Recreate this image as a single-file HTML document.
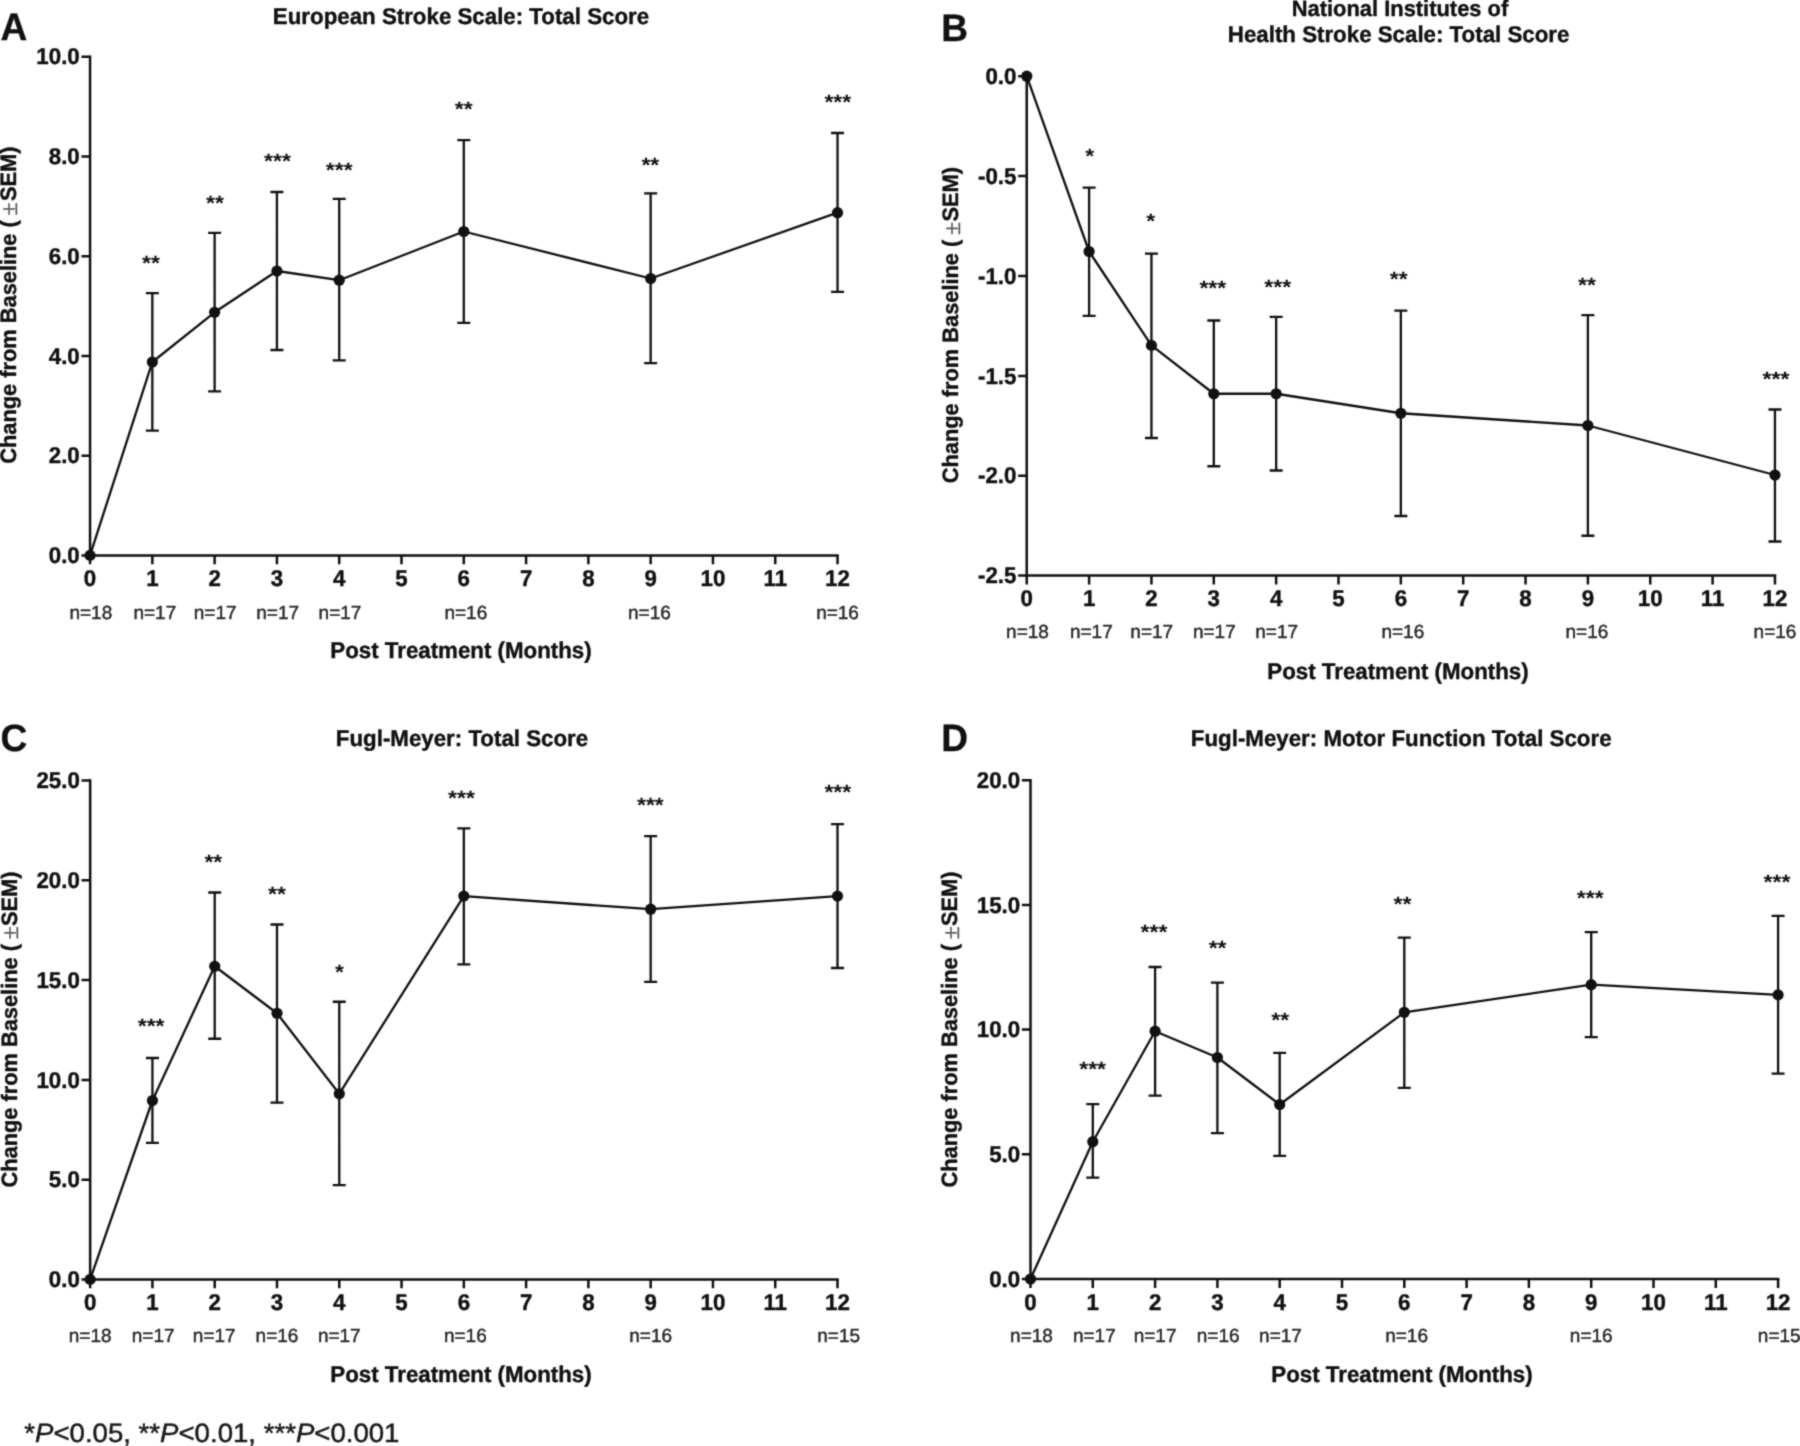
<!DOCTYPE html>
<html lang="en">
<head>
<meta charset="utf-8">
<title>Change from Baseline: Stroke Scales</title>
<style>
html,body{margin:0;padding:0;background:#fff;}
body{width:1800px;height:1446px;overflow:hidden;}
svg{display:block;}
text{text-rendering:geometricPrecision;font-family:"Liberation Sans",Arial,Helvetica,sans-serif;fill:#111111;}
.b{font-weight:bold;}
.t{font-size:22.3px;font-weight:bold;stroke:#111;stroke-width:0.4px;}
.k{font-size:22.3px;font-weight:bold;stroke:#111;stroke-width:0.4px;}
.n{font-size:19px;fill:#2a2a2a;stroke:#2a2a2a;stroke-width:0.45px;}
.s{font-size:23px;font-weight:bold;}
.p{font-size:36px;font-weight:bold;stroke:#111;stroke-width:0.3px;}
.pm{font-family:"Liberation Serif","DejaVu Serif",serif;font-weight:normal;fill:#555;stroke:#555;stroke-width:0.4px;font-size:24px;}
.ax{stroke:#111111;stroke-width:2.5;fill:none;stroke-linecap:butt;}
.d{stroke:#111111;stroke-width:2.3;fill:none;stroke-linejoin:round;}
.m{fill:#111111;}
.foot{font-size:27.6px;fill:#1a1a1a;stroke:#1a1a1a;stroke-width:0.5px;}
</style>
</head>
<body>
<svg width="1800" height="1446" viewBox="0 0 1800 1446">
<defs><filter id="soft" x="0" y="0" width="1800" height="1446" filterUnits="userSpaceOnUse" color-interpolation-filters="sRGB"><feConvolveMatrix order="3" kernelMatrix="0.0289 0.1122 0.0289 0.1122 0.4356 0.1122 0.0289 0.1122 0.0289" divisor="1" edgeMode="duplicate" preserveAlpha="false"/></filter></defs>
<rect x="0" y="0" width="1800" height="1446" fill="#ffffff"/>
<g filter="url(#soft)">

<g id="panel-A">
<text class="p" transform="translate(0.4 40.4) scale(1.03 1.06)">A</text>
<text class="t" text-anchor="middle" transform="translate(461 24.3) scale(1 1.02)">European Stroke Scale: Total Score</text>
<path class="ax" d="M90.05 55.55V555.4H838.78"/>
<path class="ax" d="M90.05 555.4H81.45M90.05 455.7H81.45M90.05 355.95H81.45M90.05 256.2H81.45M90.05 156.5H81.45M90.05 56.8H81.45"/>
<path class="ax" d="M90.05 555.4V564.3M152.34 555.4V564.3M214.63 555.4V564.3M276.92 555.4V564.3M339.21 555.4V564.3M401.5 555.4V564.3M463.79 555.4V564.3M526.08 555.4V564.3M588.37 555.4V564.3M650.66 555.4V564.3M712.95 555.4V564.3M775.24 555.4V564.3M837.53 555.4V564.3"/>
<text class="k" text-anchor="end" transform="translate(79.75 563) scale(1 1.02)">0.0</text>
<text class="k" text-anchor="end" transform="translate(79.75 463.3) scale(1 1.02)">2.0</text>
<text class="k" text-anchor="end" transform="translate(79.75 363.55) scale(1 1.02)">4.0</text>
<text class="k" text-anchor="end" transform="translate(79.75 263.8) scale(1 1.02)">6.0</text>
<text class="k" text-anchor="end" transform="translate(79.75 164.1) scale(1 1.02)">8.0</text>
<text class="k" text-anchor="end" transform="translate(79.75 64.4) scale(1 1.02)">10.0</text>
<text class="k" text-anchor="middle" transform="translate(90.05 586.4) scale(1 1.02)">0</text>
<text class="k" text-anchor="middle" transform="translate(152.34 586.4) scale(1 1.02)">1</text>
<text class="k" text-anchor="middle" transform="translate(214.63 586.4) scale(1 1.02)">2</text>
<text class="k" text-anchor="middle" transform="translate(276.92 586.4) scale(1 1.02)">3</text>
<text class="k" text-anchor="middle" transform="translate(339.21 586.4) scale(1 1.02)">4</text>
<text class="k" text-anchor="middle" transform="translate(401.5 586.4) scale(1 1.02)">5</text>
<text class="k" text-anchor="middle" transform="translate(463.79 586.4) scale(1 1.02)">6</text>
<text class="k" text-anchor="middle" transform="translate(526.08 586.4) scale(1 1.02)">7</text>
<text class="k" text-anchor="middle" transform="translate(588.37 586.4) scale(1 1.02)">8</text>
<text class="k" text-anchor="middle" transform="translate(650.66 586.4) scale(1 1.02)">9</text>
<text class="k" text-anchor="middle" transform="translate(712.95 586.4) scale(1 1.02)">10</text>
<text class="k" text-anchor="middle" transform="translate(775.24 586.4) scale(1 1.02)">11</text>
<text class="k" text-anchor="middle" transform="translate(837.53 586.4) scale(1 1.02)">12</text>
<text class="n" text-anchor="middle" transform="translate(90.8 618.9) scale(1 1)">n=18</text>
<text class="n" text-anchor="middle" transform="translate(154.84 618.9) scale(1 1)">n=17</text>
<text class="n" text-anchor="middle" transform="translate(215.13 618.9) scale(1 1)">n=17</text>
<text class="n" text-anchor="middle" transform="translate(277.67 618.9) scale(1 1)">n=17</text>
<text class="n" text-anchor="middle" transform="translate(339.96 618.9) scale(1 1)">n=17</text>
<text class="n" text-anchor="middle" transform="translate(465.79 618.9) scale(1 1)">n=16</text>
<text class="n" text-anchor="middle" transform="translate(649.41 618.9) scale(1 1)">n=16</text>
<text class="n" text-anchor="middle" transform="translate(837.53 618.9) scale(1 1)">n=16</text>
<text class="t" text-anchor="middle" transform="translate(461 658.4) scale(1 1.02)">Post Treatment (Months)</text>
<g transform="translate(15.9 0) rotate(-90)">
<text class="t" style="font-size:21.8px" transform="translate(-463.7 0) scale(1 1.02)">Change from Baseline (</text>
<text class="pm" text-anchor="middle" transform="translate(-208.9 1.5) scale(1 1)">±</text>
<text class="t" text-anchor="end" style="font-size:21.8px" transform="translate(-146.5 0) scale(1 1.02)">SEM)</text>
</g>
<path class="d" d="M90.05 555.4L152.34 362L214.63 312.3L276.92 271L339.21 280.2L463.79 231.5L650.66 278.5L837.53 212.7"/>
<path class="d" d="M152.34 293.2V430.7M145.84 293.2H158.84M145.84 430.7H158.84M214.63 232.9V391.4M208.13 232.9H221.13M208.13 391.4H221.13M276.92 192V350M270.42 192H283.42M270.42 350H283.42M339.21 198.9V360.4M332.71 198.9H345.71M332.71 360.4H345.71M463.79 140.2V322.8M457.29 140.2H470.29M457.29 322.8H470.29M650.66 193.3V363.2M644.16 193.3H657.16M644.16 363.2H657.16M837.53 133V291.8M831.03 133H844.03M831.03 291.8H844.03"/>
<circle class="m" cx="90.05" cy="555.4" r="5.6"/>
<circle class="m" cx="152.34" cy="362" r="5.6"/>
<circle class="m" cx="214.63" cy="312.3" r="5.6"/>
<circle class="m" cx="276.92" cy="271" r="5.6"/>
<circle class="m" cx="339.21" cy="280.2" r="5.6"/>
<circle class="m" cx="463.79" cy="231.5" r="5.6"/>
<circle class="m" cx="650.66" cy="278.5" r="5.6"/>
<circle class="m" cx="837.53" cy="212.7" r="5.6"/>
<text class="s" text-anchor="middle" transform="translate(150.94 269.8) scale(1 0.9)">**</text>
<text class="s" text-anchor="middle" transform="translate(214.93 210.3) scale(1 0.9)">**</text>
<text class="s" text-anchor="middle" transform="translate(277.42 167.7) scale(1 0.9)">***</text>
<text class="s" text-anchor="middle" transform="translate(339.21 176.9) scale(1 0.9)">***</text>
<text class="s" text-anchor="middle" transform="translate(463.79 116.1) scale(1 0.9)">**</text>
<text class="s" text-anchor="middle" transform="translate(650.36 171.9) scale(1 0.9)">**</text>
<text class="s" text-anchor="middle" transform="translate(837.83 109.1) scale(1 0.9)">***</text>
</g>
<g id="panel-B">
<text class="p" transform="translate(941.2 40.6) scale(1.03 1.06)">B</text>
<text class="t" text-anchor="middle" style="font-size:21.9px" transform="translate(1400 16.2) scale(1 1.02)">National Institutes of</text>
<text class="t" text-anchor="middle" transform="translate(1398.6 41.6) scale(1 1.02)">Health Stroke Scale: Total Score</text>
<path class="ax" d="M1026.75 74.95V575.6H1776.2"/>
<path class="ax" d="M1026.75 76.2H1018.15M1026.75 176.1H1018.15M1026.75 276H1018.15M1026.75 375.9H1018.15M1026.75 475.7H1018.15M1026.75 575.6H1018.15"/>
<path class="ax" d="M1026.75 575.6V584.5M1089.1 575.6V584.5M1151.45 575.6V584.5M1213.8 575.6V584.5M1276.15 575.6V584.5M1338.5 575.6V584.5M1400.85 575.6V584.5M1463.2 575.6V584.5M1525.55 575.6V584.5M1587.9 575.6V584.5M1650.25 575.6V584.5M1712.6 575.6V584.5M1774.95 575.6V584.5"/>
<text class="k" text-anchor="end" transform="translate(1016.45 83.8) scale(1 1.02)">0.0</text>
<text class="k" text-anchor="end" transform="translate(1016.45 183.7) scale(1 1.02)">-0.5</text>
<text class="k" text-anchor="end" transform="translate(1016.45 283.6) scale(1 1.02)">-1.0</text>
<text class="k" text-anchor="end" transform="translate(1016.45 383.5) scale(1 1.02)">-1.5</text>
<text class="k" text-anchor="end" transform="translate(1016.45 483.3) scale(1 1.02)">-2.0</text>
<text class="k" text-anchor="end" transform="translate(1016.45 583.2) scale(1 1.02)">-2.5</text>
<text class="k" text-anchor="middle" transform="translate(1026.75 605.8) scale(1 1.02)">0</text>
<text class="k" text-anchor="middle" transform="translate(1089.1 605.8) scale(1 1.02)">1</text>
<text class="k" text-anchor="middle" transform="translate(1151.45 605.8) scale(1 1.02)">2</text>
<text class="k" text-anchor="middle" transform="translate(1213.8 605.8) scale(1 1.02)">3</text>
<text class="k" text-anchor="middle" transform="translate(1276.15 605.8) scale(1 1.02)">4</text>
<text class="k" text-anchor="middle" transform="translate(1338.5 605.8) scale(1 1.02)">5</text>
<text class="k" text-anchor="middle" transform="translate(1400.85 605.8) scale(1 1.02)">6</text>
<text class="k" text-anchor="middle" transform="translate(1463.2 605.8) scale(1 1.02)">7</text>
<text class="k" text-anchor="middle" transform="translate(1525.55 605.8) scale(1 1.02)">8</text>
<text class="k" text-anchor="middle" transform="translate(1587.9 605.8) scale(1 1.02)">9</text>
<text class="k" text-anchor="middle" transform="translate(1650.25 605.8) scale(1 1.02)">10</text>
<text class="k" text-anchor="middle" transform="translate(1712.6 605.8) scale(1 1.02)">11</text>
<text class="k" text-anchor="middle" transform="translate(1774.95 605.8) scale(1 1.02)">12</text>
<text class="n" text-anchor="middle" transform="translate(1027.5 638.2) scale(1 1)">n=18</text>
<text class="n" text-anchor="middle" transform="translate(1091.35 638.2) scale(1 1)">n=17</text>
<text class="n" text-anchor="middle" transform="translate(1151.7 638.2) scale(1 1)">n=17</text>
<text class="n" text-anchor="middle" transform="translate(1214.3 638.2) scale(1 1)">n=17</text>
<text class="n" text-anchor="middle" transform="translate(1276.65 638.2) scale(1 1)">n=17</text>
<text class="n" text-anchor="middle" transform="translate(1402.85 638.2) scale(1 1)">n=16</text>
<text class="n" text-anchor="middle" transform="translate(1586.9 638.2) scale(1 1)">n=16</text>
<text class="n" text-anchor="middle" transform="translate(1774.95 638.2) scale(1 1)">n=16</text>
<text class="t" text-anchor="middle" transform="translate(1398 678.6) scale(1 1.02)">Post Treatment (Months)</text>
<g transform="translate(958 0) rotate(-90)">
<text class="t" style="font-size:21.8px" transform="translate(-483.2 0) scale(1 1.02)">Change from Baseline (</text>
<text class="pm" text-anchor="middle" transform="translate(-228.4 1.5) scale(1 1)">±</text>
<text class="t" text-anchor="end" style="font-size:21.8px" transform="translate(-167 0) scale(1 1.02)">SEM)</text>
</g>
<path class="d" d="M1026.75 76.2L1089.1 251.5L1151.45 345.4L1213.8 393.75L1276.15 393.75L1400.85 413.25L1587.9 425.5L1774.95 475"/>
<path class="d" d="M1089.1 187.7V315.9M1082.6 187.7H1095.6M1082.6 315.9H1095.6M1151.45 253.6V438M1144.95 253.6H1157.95M1144.95 438H1157.95M1213.8 320.5V466.25M1207.3 320.5H1220.3M1207.3 466.25H1220.3M1276.15 316.8V470.5M1269.65 316.8H1282.65M1269.65 470.5H1282.65M1400.85 310.6V516M1394.35 310.6H1407.35M1394.35 516H1407.35M1587.9 315.2V535.75M1581.4 315.2H1594.4M1581.4 535.75H1594.4M1774.95 409.5V541.5M1768.45 409.5H1781.45M1768.45 541.5H1781.45"/>
<circle class="m" cx="1026.75" cy="76.2" r="5.6"/>
<circle class="m" cx="1089.1" cy="251.5" r="5.6"/>
<circle class="m" cx="1151.45" cy="345.4" r="5.6"/>
<circle class="m" cx="1213.8" cy="393.75" r="5.6"/>
<circle class="m" cx="1276.15" cy="393.75" r="5.6"/>
<circle class="m" cx="1400.85" cy="413.25" r="5.6"/>
<circle class="m" cx="1587.9" cy="425.5" r="5.6"/>
<circle class="m" cx="1774.95" cy="475" r="5.6"/>
<text class="s" text-anchor="middle" transform="translate(1089.7 163) scale(1 0.9)">*</text>
<text class="s" text-anchor="middle" transform="translate(1150.65 228.4) scale(1 0.9)">*</text>
<text class="s" text-anchor="middle" transform="translate(1212.8 295.3) scale(1 0.9)">***</text>
<text class="s" text-anchor="middle" transform="translate(1277.65 293.7) scale(1 0.9)">***</text>
<text class="s" text-anchor="middle" transform="translate(1398.65 286) scale(1 0.9)">**</text>
<text class="s" text-anchor="middle" transform="translate(1587 291.9) scale(1 0.9)">**</text>
<text class="s" text-anchor="middle" transform="translate(1775.95 386) scale(1 0.9)">***</text>
</g>
<g id="panel-C">
<text class="p" transform="translate(0.5 751.1) scale(1.03 1.06)">C</text>
<text class="t" text-anchor="middle" transform="translate(462 746.3) scale(1 1.02)">Fugl-Meyer: Total Score</text>
<path class="ax" d="M90.15 779.35V1279.4H838.76"/>
<path class="ax" d="M90.15 1279.4H81.55M90.15 1179.65H81.55M90.15 1079.9H81.55M90.15 980.1H81.55M90.15 880.35H81.55M90.15 780.6H81.55"/>
<path class="ax" d="M90.15 1279.4V1288.3M152.43 1279.4V1288.3M214.71 1279.4V1288.3M276.99 1279.4V1288.3M339.27 1279.4V1288.3M401.55 1279.4V1288.3M463.83 1279.4V1288.3M526.11 1279.4V1288.3M588.39 1279.4V1288.3M650.67 1279.4V1288.3M712.95 1279.4V1288.3M775.23 1279.4V1288.3M837.51 1279.4V1288.3"/>
<text class="k" text-anchor="end" transform="translate(79.85 1287) scale(1 1.02)">0.0</text>
<text class="k" text-anchor="end" transform="translate(79.85 1187.25) scale(1 1.02)">5.0</text>
<text class="k" text-anchor="end" transform="translate(79.85 1087.5) scale(1 1.02)">10.0</text>
<text class="k" text-anchor="end" transform="translate(79.85 987.7) scale(1 1.02)">15.0</text>
<text class="k" text-anchor="end" transform="translate(79.85 887.95) scale(1 1.02)">20.0</text>
<text class="k" text-anchor="end" transform="translate(79.85 788.2) scale(1 1.02)">25.0</text>
<text class="k" text-anchor="middle" transform="translate(90.15 1310.4) scale(1 1.02)">0</text>
<text class="k" text-anchor="middle" transform="translate(152.43 1310.4) scale(1 1.02)">1</text>
<text class="k" text-anchor="middle" transform="translate(214.71 1310.4) scale(1 1.02)">2</text>
<text class="k" text-anchor="middle" transform="translate(276.99 1310.4) scale(1 1.02)">3</text>
<text class="k" text-anchor="middle" transform="translate(339.27 1310.4) scale(1 1.02)">4</text>
<text class="k" text-anchor="middle" transform="translate(401.55 1310.4) scale(1 1.02)">5</text>
<text class="k" text-anchor="middle" transform="translate(463.83 1310.4) scale(1 1.02)">6</text>
<text class="k" text-anchor="middle" transform="translate(526.11 1310.4) scale(1 1.02)">7</text>
<text class="k" text-anchor="middle" transform="translate(588.39 1310.4) scale(1 1.02)">8</text>
<text class="k" text-anchor="middle" transform="translate(650.67 1310.4) scale(1 1.02)">9</text>
<text class="k" text-anchor="middle" transform="translate(712.95 1310.4) scale(1 1.02)">10</text>
<text class="k" text-anchor="middle" transform="translate(775.23 1310.4) scale(1 1.02)">11</text>
<text class="k" text-anchor="middle" transform="translate(837.51 1310.4) scale(1 1.02)">12</text>
<text class="n" text-anchor="middle" transform="translate(90.15 1342.4) scale(1 1)">n=18</text>
<text class="n" text-anchor="middle" transform="translate(153.18 1342.4) scale(1 1)">n=17</text>
<text class="n" text-anchor="middle" transform="translate(214.21 1342.4) scale(1 1)">n=17</text>
<text class="n" text-anchor="middle" transform="translate(276.99 1342.4) scale(1 1)">n=16</text>
<text class="n" text-anchor="middle" transform="translate(339.27 1342.4) scale(1 1)">n=17</text>
<text class="n" text-anchor="middle" transform="translate(465.33 1342.4) scale(1 1)">n=16</text>
<text class="n" text-anchor="middle" transform="translate(650.67 1342.4) scale(1 1)">n=16</text>
<text class="n" text-anchor="middle" transform="translate(838.61 1342.4) scale(1 1)">n=15</text>
<text class="t" text-anchor="middle" transform="translate(461 1382.4) scale(1 1.02)">Post Treatment (Months)</text>
<g transform="translate(16.5 0) rotate(-90)">
<text class="t" style="font-size:21.8px" transform="translate(-1187.5 0) scale(1 1.02)">Change from Baseline (</text>
<text class="pm" text-anchor="middle" transform="translate(-932.6 1.5) scale(1 1)">±</text>
<text class="t" text-anchor="end" style="font-size:21.8px" transform="translate(-871.5 0) scale(1 1.02)">SEM)</text>
</g>
<path class="d" d="M90.15 1279.4L152.43 1100.5L214.71 966.25L276.99 1013.25L339.27 1093.8L463.83 896.1L650.67 909.2L837.51 896.1"/>
<path class="d" d="M152.43 1058V1142.8M145.93 1058H158.93M145.93 1142.8H158.93M214.71 892.5V1038.75M208.21 892.5H221.21M208.21 1038.75H221.21M276.99 924.5V1102.7M270.49 924.5H283.49M270.49 1102.7H283.49M339.27 1001.75V1185.1M332.77 1001.75H345.77M332.77 1185.1H345.77M463.83 828.3V964.4M457.33 828.3H470.33M457.33 964.4H470.33M650.67 836.1V981.9M644.17 836.1H657.17M644.17 981.9H657.17M837.51 824.2V968M831.01 824.2H844.01M831.01 968H844.01"/>
<circle class="m" cx="90.15" cy="1279.4" r="5.6"/>
<circle class="m" cx="152.43" cy="1100.5" r="5.6"/>
<circle class="m" cx="214.71" cy="966.25" r="5.6"/>
<circle class="m" cx="276.99" cy="1013.25" r="5.6"/>
<circle class="m" cx="339.27" cy="1093.8" r="5.6"/>
<circle class="m" cx="463.83" cy="896.1" r="5.6"/>
<circle class="m" cx="650.67" cy="909.2" r="5.6"/>
<circle class="m" cx="837.51" cy="896.1" r="5.6"/>
<text class="s" text-anchor="middle" transform="translate(151.13 1033.05) scale(1 0.9)">***</text>
<text class="s" text-anchor="middle" transform="translate(213.36 868.55) scale(1 0.9)">**</text>
<text class="s" text-anchor="middle" transform="translate(276.99 901.05) scale(1 0.9)">**</text>
<text class="s" text-anchor="middle" transform="translate(339.47 978.55) scale(1 0.9)">*</text>
<text class="s" text-anchor="middle" transform="translate(461.53 804.8) scale(1 0.9)">***</text>
<text class="s" text-anchor="middle" transform="translate(650.37 812) scale(1 0.9)">***</text>
<text class="s" text-anchor="middle" transform="translate(837.81 799.2) scale(1 0.9)">***</text>
</g>
<g id="panel-D">
<text class="p" transform="translate(941.3 751.3) scale(1.03 1.06)">D</text>
<text class="t" text-anchor="middle" transform="translate(1401.2 746.2) scale(1 1.02)">Fugl-Meyer: Motor Function Total Score</text>
<path class="ax" d="M1030.5 778.95V1279H1779.35"/>
<path class="ax" d="M1030.5 1279H1021.9M1030.5 1154.3H1021.9M1030.5 1029.6H1021.9M1030.5 904.9H1021.9M1030.5 780.2H1021.9"/>
<path class="ax" d="M1030.5 1279V1287.9M1092.8 1279V1287.9M1155.1 1279V1287.9M1217.4 1279V1287.9M1279.7 1279V1287.9M1342 1279V1287.9M1404.3 1279V1287.9M1466.6 1279V1287.9M1528.9 1279V1287.9M1591.2 1279V1287.9M1653.5 1279V1287.9M1715.8 1279V1287.9M1778.1 1279V1287.9"/>
<text class="k" text-anchor="end" transform="translate(1020.2 1286.6) scale(1 1.02)">0.0</text>
<text class="k" text-anchor="end" transform="translate(1020.2 1161.9) scale(1 1.02)">5.0</text>
<text class="k" text-anchor="end" transform="translate(1020.2 1037.2) scale(1 1.02)">10.0</text>
<text class="k" text-anchor="end" transform="translate(1020.2 912.5) scale(1 1.02)">15.0</text>
<text class="k" text-anchor="end" transform="translate(1020.2 787.8) scale(1 1.02)">20.0</text>
<text class="k" text-anchor="middle" transform="translate(1030.5 1310) scale(1 1.02)">0</text>
<text class="k" text-anchor="middle" transform="translate(1092.8 1310) scale(1 1.02)">1</text>
<text class="k" text-anchor="middle" transform="translate(1155.1 1310) scale(1 1.02)">2</text>
<text class="k" text-anchor="middle" transform="translate(1217.4 1310) scale(1 1.02)">3</text>
<text class="k" text-anchor="middle" transform="translate(1279.7 1310) scale(1 1.02)">4</text>
<text class="k" text-anchor="middle" transform="translate(1342 1310) scale(1 1.02)">5</text>
<text class="k" text-anchor="middle" transform="translate(1404.3 1310) scale(1 1.02)">6</text>
<text class="k" text-anchor="middle" transform="translate(1466.6 1310) scale(1 1.02)">7</text>
<text class="k" text-anchor="middle" transform="translate(1528.9 1310) scale(1 1.02)">8</text>
<text class="k" text-anchor="middle" transform="translate(1591.2 1310) scale(1 1.02)">9</text>
<text class="k" text-anchor="middle" transform="translate(1653.5 1310) scale(1 1.02)">10</text>
<text class="k" text-anchor="middle" transform="translate(1715.8 1310) scale(1 1.02)">11</text>
<text class="k" text-anchor="middle" transform="translate(1778.1 1310) scale(1 1.02)">12</text>
<text class="n" text-anchor="middle" transform="translate(1031.5 1342) scale(1 1)">n=18</text>
<text class="n" text-anchor="middle" transform="translate(1094.3 1342) scale(1 1)">n=17</text>
<text class="n" text-anchor="middle" transform="translate(1155.1 1342) scale(1 1)">n=17</text>
<text class="n" text-anchor="middle" transform="translate(1218.15 1342) scale(1 1)">n=16</text>
<text class="n" text-anchor="middle" transform="translate(1280.45 1342) scale(1 1)">n=17</text>
<text class="n" text-anchor="middle" transform="translate(1406.55 1342) scale(1 1)">n=16</text>
<text class="n" text-anchor="middle" transform="translate(1591.2 1342) scale(1 1)">n=16</text>
<text class="n" text-anchor="middle" transform="translate(1779.2 1342) scale(1 1)">n=15</text>
<text class="t" text-anchor="middle" transform="translate(1402 1382) scale(1 1.02)">Post Treatment (Months)</text>
<g transform="translate(957.3 0) rotate(-90)">
<text class="t" style="font-size:21.8px" transform="translate(-1187.5 0) scale(1 1.02)">Change from Baseline (</text>
<text class="pm" text-anchor="middle" transform="translate(-932.6 1.5) scale(1 1)">±</text>
<text class="t" text-anchor="end" style="font-size:21.8px" transform="translate(-871.5 0) scale(1 1.02)">SEM)</text>
</g>
<path class="d" d="M1030.5 1279L1092.8 1141.7L1155.1 1031.2L1217.4 1057.5L1279.7 1104.5L1404.3 1012.3L1591.2 984.7L1778.1 994.9"/>
<path class="d" d="M1092.8 1104.2V1177.7M1086.3 1104.2H1099.3M1086.3 1177.7H1099.3M1155.1 967V1095.7M1148.6 967H1161.6M1148.6 1095.7H1161.6M1217.4 982.7V1133.1M1210.9 982.7H1223.9M1210.9 1133.1H1223.9M1279.7 1052.8V1155.8M1273.2 1052.8H1286.2M1273.2 1155.8H1286.2M1404.3 937.7V1087.8M1397.8 937.7H1410.8M1397.8 1087.8H1410.8M1591.2 932.1V1037.2M1584.7 932.1H1597.7M1584.7 1037.2H1597.7M1778.1 915.8V1073.7M1771.6 915.8H1784.6M1771.6 1073.7H1784.6"/>
<circle class="m" cx="1030.5" cy="1279" r="5.6"/>
<circle class="m" cx="1092.8" cy="1141.7" r="5.6"/>
<circle class="m" cx="1155.1" cy="1031.2" r="5.6"/>
<circle class="m" cx="1217.4" cy="1057.5" r="5.6"/>
<circle class="m" cx="1279.7" cy="1104.5" r="5.6"/>
<circle class="m" cx="1404.3" cy="1012.3" r="5.6"/>
<circle class="m" cx="1591.2" cy="984.7" r="5.6"/>
<circle class="m" cx="1778.1" cy="994.9" r="5.6"/>
<text class="s" text-anchor="middle" transform="translate(1092.6 1076.3) scale(1 0.9)">***</text>
<text class="s" text-anchor="middle" transform="translate(1154 939.2) scale(1 0.9)">***</text>
<text class="s" text-anchor="middle" transform="translate(1217.6 954.7) scale(1 0.9)">**</text>
<text class="s" text-anchor="middle" transform="translate(1280.3 1027.1) scale(1 0.9)">**</text>
<text class="s" text-anchor="middle" transform="translate(1402.5 911) scale(1 0.9)">**</text>
<text class="s" text-anchor="middle" transform="translate(1590.2 905.2) scale(1 0.9)">***</text>
<text class="s" text-anchor="middle" transform="translate(1777 888.8) scale(1 0.9)">***</text>
</g>
<text class="foot" transform="translate(24.3 1442) scale(1 0.96)">*<tspan font-style="italic">P</tspan>&lt;0.05, **<tspan font-style="italic">P</tspan>&lt;0.01, ***<tspan font-style="italic">P</tspan>&lt;0.001</text>
</g>
</svg>
</body>
</html>
